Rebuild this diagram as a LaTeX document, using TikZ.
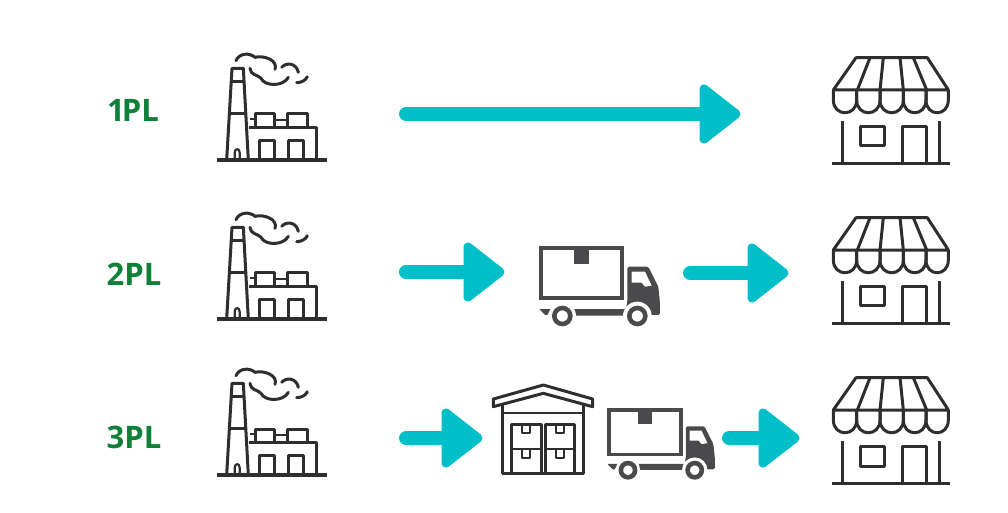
\documentclass[tikz,border=0pt]{standalone}
\usepackage{fontspec}
\setmainfont{Open Sans}
\usetikzlibrary{calc}
\definecolor{ink}{HTML}{2E2E30}
\definecolor{truckink}{HTML}{4A4A4C}
\definecolor{teal1}{HTML}{00BFC9}
\definecolor{green1}{HTML}{0F8038}
\newcommand{\flowarrow}[2]{%
  \draw[flowshaft] (#1)--($(#2)+(-20,0)$);
  \draw[flowhead] ($(#2)+(-37,-25)$)--($(#2)+(-5,0)$)--($(#2)+(-37,25)$)--cycle;
}
\tikzset{
  flowshaft/.style={draw=teal1,line width=14pt,line cap=round},
  flowhead/.style={draw=teal1,fill=teal1,line width=9pt,line join=round},
  plabel/.style={text=green1,font=\bfseries\fontsize{31}{31}\selectfont,inner sep=0pt,anchor=center},
  icon/.style={draw=ink,line width=3pt,line join=round,line cap=butt},
  factory/.pic={
    \begin{scope}[x=.3333pt,y=-.3333pt]
      \draw[icon,line width=3.4pt] (52,360)--(380,360);
      \draw[icon] (80,360)--(96,85)--(130,85)--(145,360);
      \draw[icon] (94,125)--(132,125) (89,220)--(137,220);
      \draw[icon,line width=2.2pt] (104,358)--(104,338) .. controls (104,324) and (119,324) .. (119,338)--(119,358);
      \draw[icon] (148,262)--(350,262)--(350,360);
      \draw[icon] (168,262)--(168,222)--(225,222)--(225,262);
      \draw[icon] (262,262)--(262,222)--(322,222)--(322,262);
      \draw[icon,line width=2.2pt] (225,240)--(262,240) (150,238)--(168,238);
      \draw[icon] (180,360)--(180,302)--(225,302)--(225,360);
      \draw[icon] (265,360)--(265,302)--(310,302)--(310,360);
      \draw[icon,line cap=round] (108,62) .. controls (118,38) and (150,38) .. (165,52)
        .. controls (190,45) and (235,60) .. (225,88);
      \draw[icon,line cap=round] (150,85) .. controls (150,105) and (175,105) .. (183,115)
        .. controls (195,140) and (250,140) .. (265,112);
      \draw[icon,line cap=round] (245,82) .. controls (260,65) and (290,70) .. (295,97);
      \draw[icon,line cap=round] (290,128) .. controls (305,128) and (318,120) .. (322,110);
    \end{scope}
  },
  store/.pic={
    \begin{scope}[x=.3333pt,y=-.3333pt]
      \draw[icon,line width=3.4pt] (35,355)--(390,355);
      \draw[icon] (40,135)--(108,38)--(322,38)--(385,135)--cycle;
      \draw[icon] (150,38)--(112,135) (190,38)--(180,135) (240,38)--(250,135) (280,38)--(320,135);
      \foreach \a/\b in {40/110,110/180,180/250,250/318,318/385}
        \draw[icon] (\a,135)--(\a,165) .. controls (\a,216) and (\b,216) .. (\b,165)--(\b,135);
      \draw[icon] (68,228)--(68,355) (358,228)--(358,355);
      \draw[icon] (122,245) rectangle (192,303);
      \draw[icon] (248,355)--(248,245)--(318,245)--(318,355);
    \end{scope}
  },
  truck/.pic={
    \begin{scope}[x=.3333pt,y=-.3333pt]
      \draw[draw=truckink,line join=miter] (33,40) rectangle (275,190);
      \fill[truckink] (132,40) rectangle (178,88);
      \fill[truckink,rounded corners=1.5pt] (292,95)--(355,95)--(385,155)--(390,205)--(390,240)--(356,240)
        .. controls (350,205) and (295,205) .. (288,222)--(292,200)--cycle;
      \fill[white] (305,110)--(345,110)--(365,152)--(345,155)--(335,143)--(305,143)--cycle;
      \fill[truckink] (133,222)--(288,222)--(282,242)--(133,242)--cycle;
      \fill[truckink] (28,222)--(62,222)--(52,240)--(45,240)--cycle;
      \fill[white] (97,243) circle[radius=41];
      \fill[white] (322,243) circle[radius=43];
      \draw[draw=truckink,line width=4.6pt] (97,243) circle[radius=24];
      \draw[draw=truckink,line width=4.6pt] (322,243) circle[radius=24];
    \end{scope}
  },
  warehouse/.pic={
    \begin{scope}[x=.3333pt,y=-.3333pt]
      \draw[icon] (25,72)--(175,30)--(323,72)--(323,95)--(175,55)--(25,95)--cycle;
      \draw[icon] (52,88)--(52,295)--(297,295)--(297,88);
      \draw[icon,line width=2.2pt] (52,115)--(297,115);
      \draw[icon] (80,295)--(80,148)--(170,148)--(170,295);
      \draw[icon] (180,295)--(180,148)--(268,148)--(268,295);
      \draw[icon,line width=2.2pt] (80,222)--(170,222) (180,222)--(268,222);
      \foreach \a/\b in {112/148,212/148,112/222,212/222}
        \draw[icon,line width=2.2pt] (\a,\b)--(\a,\b+27)--(\a+24,\b+27)--(\a+24,\b);
    \end{scope}
  }
}
\begin{document}
\begin{tikzpicture}[x=1pt,y=-1pt]
  \useasboundingbox[fill=white] (0,0) rectangle (1008,512);
  \node[plabel] (l1) at (133,110) {1\kern-3ptPL};
  \node[plabel] (l2) at (134,274) {2PL};
  \node[plabel] (l3) at (134,437) {3PL};
  \pic at (200,40) {factory};
  \pic at (200,199) {factory};
  \pic at (200,355) {factory};
  \pic at (820,45) {store};
  \pic at (820,205) {store};
  \pic at (820,365) {store};
  \pic[line width=4pt] at (530,235) {truck};
  \pic[scale=.89,line width=3.6pt] at (599.2,398.1) {truck};
  \pic at (485,375) {warehouse};
  \coordinate (a1s) at (406,114); \coordinate (a1e) at (741,114);
  \coordinate (a2s) at (406,272); \coordinate (a2e) at (505,272);
  \coordinate (b2s) at (690,273); \coordinate (b2e) at (789,273);
  \coordinate (a3s) at (406,438); \coordinate (a3e) at (483,438);
  \coordinate (b3s) at (729,438); \coordinate (b3e) at (800,438);
  \flowarrow{a1s}{a1e}
  \flowarrow{a2s}{a2e}
  \flowarrow{b2s}{b2e}
  \flowarrow{a3s}{a3e}
  \flowarrow{b3s}{b3e}
\end{tikzpicture}
\end{document}
